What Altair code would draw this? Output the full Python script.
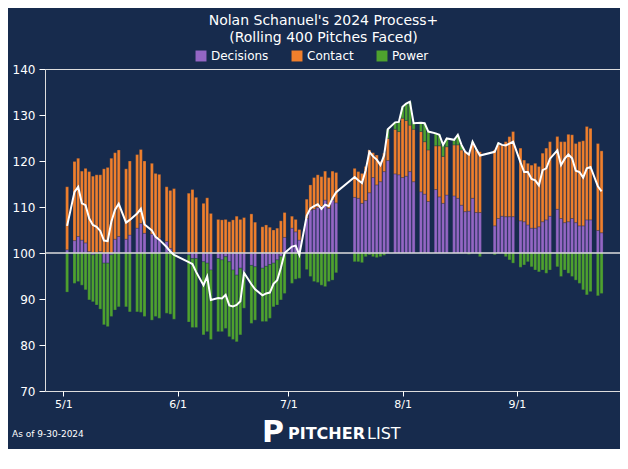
import pandas as pd
import altair as alt

# game day = days after May 1 2024; values are deviations from 100
days = [1, 3, 4, 5, 6, 7, 8, 9, 10, 11, 12, 13, 14, 15, 17, 18, 20, 21, 22, 24, 25, 26,
        28, 29, 30, 34, 35, 36, 38, 39, 40, 42, 43, 44, 45, 46, 47, 48, 49, 51, 52, 54,
        55, 56, 57, 58, 59, 60, 62, 63, 64, 66, 67, 68, 69, 70, 71, 72, 73, 74, 79, 80,
        81, 82, 83, 84, 85, 86, 87, 88, 90, 91, 92, 93, 94, 95, 97, 98, 99, 101, 102,
        103, 104, 106, 107, 108, 109, 110, 111, 112, 113, 117, 118, 119, 120, 121, 122,
        124, 125, 126, 127, 128, 129, 130, 131, 132, 134, 135, 136, 137, 138, 139, 140,
        141, 142, 143, 145, 146]
decisions = [0.7, 2.7, 3.6, 2.8, 2.2, 0.3, -0.4, 0.0, 0.3, -2.2, -2.2, -0.4, 3.0, 3.6, 3.0,
             3.9, 5.4, 6.4, 4.3, 4.1, 3.6, 3.2, 2.5, 1.0, 0.0, -0.4, -1.2, -1.2, -1.9, -2.2,
             -3.7, -1.2, -1.5, -0.8, -1.9, -3.7, -4.8, -3.3, -4.1, -2.7, -3.0, -3.3, -2.9,
             -2.5, -2.2, -1.5, -0.7, 3.4, 5.4, 4.6, 2.8, 7.5, 9.3, 9.5, 9.9, 10.1, 11.5, 9.7,
             11.5, 10.9, 12.1, 11.9, 10.8, 11.4, 13.1, 16.4, 14.8, 15.5, 17.7, 20.1, 17.2,
             17.0, 16.4, 16.7, 17.7, 15.5, 13.3, 12.8, 11.2, 13.8, 12.2, 10.8, 12.6, 12.4,
             11.9, 10.4, 9.0, 9.1, 11.9, 8.8, 8.8, 5.9, 7.5, 8.0, 7.9, 7.9, 7.9, 7.0, 6.8,
             6.1, 5.4, 5.4, 5.7, 6.8, 7.2, 8.0, 9.5, 7.5, 6.6, 6.8, 7.5, 6.6, 5.9, 5.9, 7.2,
             7.2, 4.9, 4.4]
contact = [13.7, 17.2, 17.0, 15.0, 16.2, 17.4, 16.7, 17.0, 16.7, 18.3, 18.6, 20.6, 18.8,
           18.8, 15.3, 16.1, 16.0, 16.1, 15.7, 15.4, 13.7, 13.9, 11.9, 12.6, 14.0, 13.0,
           13.8, 12.1, 10.8, 12.0, 8.6, 7.3, 7.2, 7.3, 6.8, 7.2, 8.0, 7.3, 7.7, 8.5, 6.7,
           5.7, 6.1, 5.6, 5.0, 5.4, 7.0, 5.4, 2.6, 2.7, 2.3, 4.2, 5.5, 6.9, 7.1, 6.5, 6.3,
           6.7, 6.3, 6.6, 6.3, 5.8, 6.5, 7.4, 9.3, 5.4, 6.5, 4.4, 4.0, 4.8, 9.7, 9.4, 12.9,
           12.1, 10.1, 11.4, 13.1, 11.4, 11.2, 9.5, 11.1, 10.2, 10.5, 11.1, 11.6, 12.0,
           13.0, 12.6, 11.9, 13.6, 13.2, 16.5, 16.0, 15.5, 16.3, 17.4, 18.5, 15.8, 13.4,
           13.4, 13.7, 14.1, 13.1, 14.9, 15.6, 16.2, 15.8, 16.7, 17.6, 19.0, 18.2, 17.2,
           18.3, 18.5, 20.3, 19.9, 18.9, 17.8]
power = [-8.5, -6.6, -6.2, -7.0, -8.0, -10.2, -10.2, -11.3, -12.2, -13.4, -13.8, -13.4,
         -12.4, -11.7, -11.7, -12.8, -12.8, -12.9, -13.8, -14.6, -13.8, -14.2, -13.1,
         -13.3, -14.4, -14.6, -15.0, -15.0, -15.9, -14.9, -15.1, -15.9, -15.6, -15.6,
         -16.3, -15.1, -14.5, -14.5, -7.9, -12.6, -11.6, -11.6, -12.0, -11.7, -9.5, -9.8,
         -9.5, -8.8, -6.6, -5.7, -5.5, -3.6, -5.1, -6.2, -6.4, -7.0, -7.3, -6.2, -5.9,
         -4.3, -1.9, -1.9, -2.1, -0.8, -0.4, -0.8, -1.0, -0.8, -0.5, 2.0, 1.5, 2.1, 2.5,
         3.7, 5.1, 1.3, 1.9, 4.0, 4.0, 2.7, 2.4, 2.5, 1.8, 1.1, 2.2, 1.1, 0.0, -0.3, 0.4,
         0.2, -0.8, -0.4, 0.4, 0.0, -0.8, -1.5, -2.2, -3.1, -2.6, -1.9, -3.0, -3.7, -4.1,
         -3.7, -4.4, -3.7, -3.0, -5.1, -3.7, -4.4, -5.1, -5.9, -6.6, -8.0, -9.1, -8.4,
         -9.3, -8.8]

dates = pd.Timestamp("2024-05-01") + pd.to_timedelta(days, unit="D")
wide = pd.DataFrame({"date": dates, "Decisions": decisions, "Contact": contact, "Power": power})
wide["total"] = wide["Decisions"] + wide["Contact"] + wide["Power"]
long = wide.melt(id_vars=["date"], value_vars=["Decisions", "Contact", "Power"],
                 var_name="series", value_name="value")
long["order"] = long["series"].map({"Decisions": 0, "Contact": 1, "Power": 2})

bg = "#172b4d"
xscale = alt.Scale(domain=["2024-04-26", "2024-09-29"], padding=0)
yscale = alt.Scale(domain=[-30, 40], nice=False)

bars = alt.Chart(long).mark_bar(size=3, stroke="#1f2f4f", strokeWidth=0.3).encode(
    x=alt.X("date:T", scale=xscale, title=None,
            axis=alt.Axis(values=["2024-05-01", "2024-06-01", "2024-07-01", "2024-08-01", "2024-09-01"],
                          format="%-m/%-d", labelColor="white", tickColor="white",
                          domain=False, grid=False, labelFontSize=11, tickSize=5,
                          labelPadding=2)),
    y=alt.Y("value:Q", stack="zero", scale=yscale, title=None,
            axis=alt.Axis(values=[-30, -20, -10, 0, 10, 20, 30, 40],
                          labelExpr="datum.value + 100", labelColor="white",
                          tickColor="white", domain=False, grid=False,
                          labelFontSize=12, tickSize=6, labelPadding=4)),
    color=alt.Color("series:N",
                    scale=alt.Scale(domain=["Decisions", "Contact", "Power"],
                                    range=["#9466c4", "#f07f2c", "#4ea22e"]),
                    legend=alt.Legend(title=None, orient="none", direction="horizontal",
                                      legendX=150, legendY=-19, labelColor="white",
                                      labelFontSize=12, symbolType="square",
                                      symbolSize=120, symbolStrokeWidth=0,
                                      columnPadding=22)),
    order=alt.Order("order:Q"),
)

base_rule = alt.Chart(pd.DataFrame({"y": [0]})).mark_rule(color="#dddddd", strokeWidth=1.5).encode(
    y=alt.Y("y:Q", scale=yscale))

line = alt.Chart(wide).mark_line(color="white", strokeWidth=2).encode(
    x=alt.X("date:T", scale=xscale),
    y=alt.Y("total:Q", scale=yscale),
)

foot = alt.Chart(pd.DataFrame({"t": ["As of 9-30-2024"]})).mark_text(
    color="white", fontSize=9, align="left").encode(
    text="t:N", x=alt.value(-33), y=alt.value(365))
logo_p = alt.Chart(pd.DataFrame({"t": ["P"]})).mark_text(
    color="white", fontSize=30, fontWeight="bold", align="left", font="DejaVu Sans").encode(
    text="t:N", x=alt.value(217), y=alt.value(364))
logo_a = alt.Chart(pd.DataFrame({"t": ["PITCHER"]})).mark_text(
    color="white", fontSize=16, fontWeight="bold", align="left", font="DejaVu Sans").encode(
    text="t:N", x=alt.value(243), y=alt.value(365))
logo_b = alt.Chart(pd.DataFrame({"t": ["LIST"]})).mark_text(
    color="white", fontSize=16, fontWeight="normal", align="left", font="DejaVu Sans").encode(
    text="t:N", x=alt.value(322), y=alt.value(365))

chart = alt.layer(bars, base_rule, line, foot, logo_p, logo_a, logo_b).properties(
    width=575, height=322,
    title=alt.Title(["Nolan Schanuel's 2024 Process+", "(Rolling 400 Pitches Faced)"],
                    color="white", fontSize=14, fontWeight="normal", offset=5,
                    lineHeight=17, dx=-9),
    background=bg,
    padding={"left": 37, "top": 61, "right": 0, "bottom": 58},
    autosize=alt.AutoSizeParams(type="none"),
).configure_view(strokeWidth=0).configure(font="DejaVu Sans")

chart.save("out.html", embed_options={"renderer": "svg", "actions": False})
